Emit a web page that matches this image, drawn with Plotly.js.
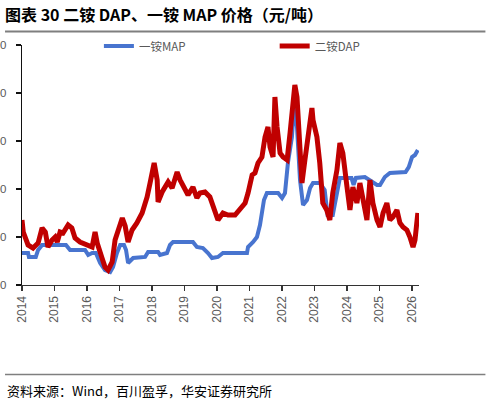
<!DOCTYPE html>
<html>
<head>
<meta charset="utf-8">
<script src="https://cdn.plot.ly/plotly-3.0.1.min.js"></script>
<style>
  html, body { margin: 0; padding: 0; background: #fff; }
  #chart { width: 491px; height: 406px; }
</style>
</head>
<body>
<div id="chart"></div>
<script>
// 一铵 MAP 价格（元/吨）
const mapDates = [
  "2014-01-01","2014-03-10","2014-03-20","2014-06-05","2014-07-01","2014-08-15",
  "2015-05-10","2015-06-25","2015-12-10","2016-01-15","2016-02-28","2016-04-10",
  "2016-05-28","2016-07-22","2016-09-18","2016-10-20","2016-12-03","2017-01-08",
  "2017-02-20","2017-03-15","2017-04-07","2017-06-03","2017-10-15","2017-11-18",
  "2018-03-10","2018-04-01","2018-06-18","2018-07-22","2018-08-25","2019-04-06",
  "2019-05-20","2019-07-27","2019-09-22","2019-11-06","2020-01-12","2020-03-08",
  "2020-12-03","2020-12-15","2021-02-10","2021-03-25","2021-04-28","2021-06-12",
  "2021-07-15","2021-11-18","2022-01-01","2022-02-03","2022-03-08","2022-04-22",
  "2022-05-15","2022-06-18","2022-07-22","2022-08-25","2022-10-08","2022-11-12",
  "2022-12-15","2023-03-01","2023-04-25","2023-05-28","2023-07-25","2023-09-10",
  "2023-10-13","2024-02-20","2024-03-15","2024-04-10","2024-07-20","2024-12-03",
  "2025-01-06","2025-03-01","2025-04-27","2025-10-20","2025-11-25","2026-01-01",
  "2026-02-03","2026-03-07"
];
const mapPrice = [
  2333,2333,2292,2292,2365,2417,
  2417,2365,2365,2313,2333,2333,
  2229,2156,2135,2187,2333,2417,
  2417,2365,2229,2281,2292,2344,
  2344,2313,2333,2417,2448,2448,
  2396,2385,2333,2281,2292,2333,
  2333,2396,2448,2500,2625,2885,
  2958,2958,2906,2958,3271,3542,
  3854,3646,3094,2833,2885,3010,
  3062,3062,2990,2729,2729,2990,
  3115,3115,3042,3115,3125,3042,
  3042,3125,3167,3177,3229,3333,
  3354,3406
];

// 二铵 DAP 价格（元/吨）
const dapDates = [
  "2014-01-01","2014-01-15","2014-03-10","2014-05-05","2014-07-01","2014-08-15",
  "2014-09-20","2014-10-20","2014-12-05","2015-01-08","2015-02-01","2015-03-05",
  "2015-04-07","2015-06-03","2015-07-15","2015-08-20","2015-10-15","2016-01-03",
  "2016-02-28","2016-04-01","2016-04-25","2016-06-18","2016-07-22","2016-08-25",
  "2016-10-10","2016-11-12","2016-12-15","2017-02-01","2017-03-05","2017-04-07",
  "2017-05-22","2017-07-15","2017-09-12","2017-11-07","2017-12-10","2018-01-03",
  "2018-01-25","2018-02-28","2018-03-10","2018-04-25","2018-05-28","2018-07-01",
  "2018-08-15","2018-10-10","2018-11-12","2019-01-07","2019-02-10","2019-04-06",
  "2019-05-20","2019-06-24","2019-08-19","2019-10-13","2019-12-10","2020-01-12",
  "2020-03-08","2020-05-03","2020-07-22","2020-09-15","2020-11-12","2020-12-15",
  "2021-01-30","2021-03-03","2021-04-06","2021-05-20","2021-06-24","2021-07-27",
  "2021-08-19","2021-09-22","2021-10-13","2021-11-06","2021-12-10","2022-01-12",
  "2022-02-27","2022-04-01","2022-05-03","2022-05-25","2022-06-18","2022-06-28",
  "2022-07-22","2022-08-13","2022-09-15","2022-10-18","2022-12-03","2022-12-15",
  "2023-01-06","2023-01-28","2023-03-01","2023-04-04","2023-05-18","2023-06-22",
  "2023-07-25","2023-09-10","2023-10-13","2023-11-15","2024-01-01","2024-02-03",
  "2024-03-07","2024-04-21","2024-05-25","2024-06-28","2024-08-12","2024-09-15",
  "2024-10-18","2024-12-03","2025-01-06","2025-02-09","2025-03-24","2025-04-27",
  "2025-06-01","2025-07-15","2025-08-18","2025-09-21","2025-11-04","2025-12-08",
  "2026-01-12","2026-02-03","2026-02-25","2026-03-07"
];
const dapPrice = [
  2677,2552,2417,2385,2437,2594,
  2552,2396,2469,2500,2448,2552,
  2542,2625,2594,2490,2448,2417,
  2396,2552,2437,2281,2187,2156,
  2240,2470,2573,2698,2615,2448,
  2573,2646,2750,2917,3062,3167,
  3271,3094,2865,2969,3021,3073,
  3010,3177,3094,2990,2938,3021,
  2906,2958,2969,2917,2760,2677,
  2750,2729,2729,2781,2854,2958,
  3146,3167,3271,3333,3542,3646,
  3438,3333,3958,3646,3375,3333,
  3302,3583,3927,4083,3958,3792,
  3479,3062,3302,3510,3844,3719,
  3646,3542,3271,2854,2781,2677,
  2958,3198,3479,3375,3021,2781,
  3021,2854,3062,2885,2677,3094,
  2854,2677,2604,2750,2854,2677,
  2708,2781,2646,2604,2573,2500,
  2396,2469,2677,2750
];

const yTicks = [2000, 2500, 3000, 3500, 4000, 4500];
const yearTicks = ["2014","2015","2016","2017","2018","2019","2020",
                   "2021","2022","2023","2024","2025","2026"];

const W = 491, H = 406;
const plotL = 22, plotR = 419.5, plotT = 45, plotB = 285;
const px = v => (v - plotL) / (plotR - plotL);
const py = v => (plotB - v) / (plotB - plotT);

const cjk = '"Noto Sans CJK SC", "Liberation Sans", Arial, sans-serif';
const latin = '"Liberation Sans", Arial, sans-serif';

const legendStyle = (left) => ({
  orientation: "h", x: px(left), y: py(46), xanchor: "left", yanchor: "middle",
  font: { family: cjk, size: 11.5, color: "#595959" },
  bgcolor: "rgba(0,0,0,0)", itemclick: false
});

const traces = [
  {
    x: mapDates, y: mapPrice, name: "一铵MAP", type: "scatter", mode: "lines",
    line: { color: "#4874CF", width: 4 }, legend: "legend"
  },
  {
    x: dapDates, y: dapPrice, name: "二铵DAP", type: "scatter", mode: "lines",
    line: { color: "#C00000", width: 5 }, legend: "legend2"
  }
];

const layout = {
  width: W, height: H,
  margin: { l: plotL, r: W - plotR, t: plotT, b: H - plotB, pad: 0 },
  paper_bgcolor: "#fff", plot_bgcolor: "#fff",
  showlegend: true,
  legend: legendStyle(99),
  legend2: legendStyle(275),
  title: {
    text: "<b>图表 30 二铵 DAP、一铵 MAP 价格（元/吨）</b>",
    x: 5 / W, xref: "container", xanchor: "left",
    y: 1 - 15 / H, yref: "container", yanchor: "middle",
    font: { family: cjk, size: 16, color: "#000" }
  },
  xaxis: {
    type: "date",
    range: ["2014-01-01", "2026-03-20"],
    tickvals: yearTicks.map(y => y + "-01-01"),
    ticktext: yearTicks,
    tickangle: -90,
    ticks: "outside", ticklen: 5, tickwidth: 1.2, tickcolor: "#333",
    showline: true, linecolor: "#333", linewidth: 1.2,
    showgrid: false, zeroline: false,
    tickfont: { family: latin, size: 12, color: "#595959" }
  },
  yaxis: {
    range: [2000, 4500],
    tickvals: yTicks,
    ticks: "outside", ticklen: 5, tickwidth: 1.2, tickcolor: "#111",
    showline: true, linecolor: "#111", linewidth: 1.2,
    showgrid: false, zeroline: false,
    ticklabelstandoff: 7,
    tickfont: { family: latin, size: 11.5, color: "#595959" }
  },
  shapes: [
    { type: "line", xref: "paper", yref: "paper",
      x0: px(5), x1: px(486), y0: py(31.5), y1: py(31.5),
      line: { color: "#7f7f7f", width: 2 } },
    { type: "line", xref: "paper", yref: "paper",
      x0: px(5), x1: px(486), y0: py(374.5), y1: py(374.5),
      line: { color: "#7f7f7f", width: 1.5 } }
  ],
  annotations: [
    { text: "资料来源：Wind，百川盈孚，华安证券研究所",
      xref: "paper", yref: "paper", x: px(5), y: py(390),
      xanchor: "left", yanchor: "middle", showarrow: false,
      font: { family: cjk, size: 13, color: "#000" } }
  ]
};

Plotly.newPlot("chart", traces, layout, { staticPlot: true, displayModeBar: false });
</script>
</body>
</html>
